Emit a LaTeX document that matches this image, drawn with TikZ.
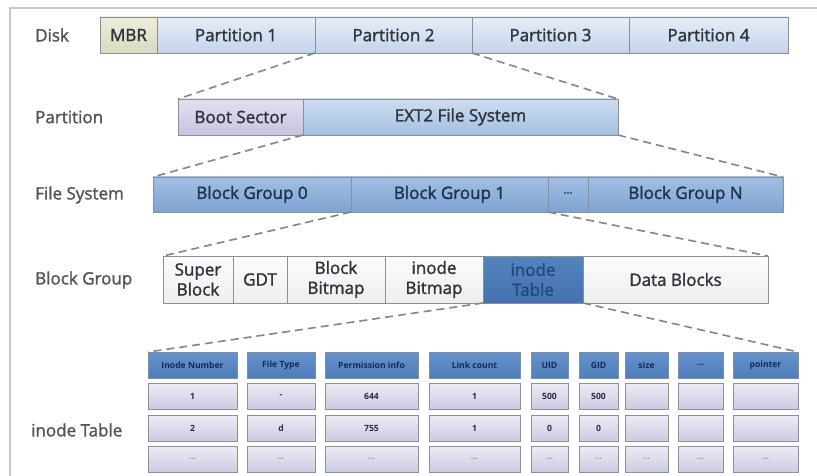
\documentclass[tikz,border=0pt]{standalone}
\usepackage{fontspec}
\setmainfont{Open Sans}
\newfontfamily\medfont{Open Sans}[FakeBold=1.6]
\definecolor{frame}{HTML}{C8C8C8}
\definecolor{bord}{HTML}{8A8F99}
\definecolor{dash}{HTML}{858585}
\definecolor{lbl}{HTML}{555555}
\definecolor{txt}{HTML}{30343E}
\definecolor{navy}{HTML}{1F3050}
\definecolor{mbrT}{HTML}{EDEDDC}\definecolor{mbrB}{HTML}{D9D9BF}
\definecolor{partT}{HTML}{E6EEF8}\definecolor{partB}{HTML}{C2D4EA}
\definecolor{bootT}{HTML}{E2DFF0}\definecolor{bootB}{HTML}{C8C3E0}
\definecolor{extT}{HTML}{CDDDF0}\definecolor{extB}{HTML}{A3BFE0}
\definecolor{fsT}{HTML}{A2BFE2}\definecolor{fsB}{HTML}{7DA3D2}
\definecolor{whtT}{HTML}{FCFCFC}\definecolor{whtB}{HTML}{EEEEEE}
\definecolor{itT}{HTML}{5384C0}\definecolor{itB}{HTML}{4571AE}\definecolor{itTxt}{HTML}{23487E}
\definecolor{hdrD}{HTML}{7F8EA6}\definecolor{hdrT}{HTML}{6592CC}\definecolor{hdrB}{HTML}{4E7DBA}\definecolor{hdrTxt}{HTML}{16295A}
\definecolor{cellD}{HTML}{8E8E9E}\definecolor{cellT}{HTML}{ECECF6}\definecolor{cellB}{HTML}{C9CCE2}\definecolor{cellTxt}{HTML}{2A2A40}
\definecolor{dotTxt}{HTML}{8A8FB0}
\tikzset{
  x=1pt, y=-1pt,
  base/.style={draw=bord, line width=0.9pt, inner sep=0pt, outer sep=0pt, align=center, text=txt,
    font=\medfont\fontsize{17}{20}\selectfont},
  mbr/.style={base, top color=mbrT, bottom color=mbrB},
  part/.style={base, top color=partT, bottom color=partB},
  boot/.style={base, top color=bootT, bottom color=bootB},
  ext/.style={base, top color=extT, bottom color=extB},
  fs/.style={base, top color=fsT, bottom color=fsB, text=navy},
  wht/.style={base, top color=whtT, bottom color=whtB},
  itab/.style={base, top color=itT, bottom color=itB, text=itTxt},
  hdr/.style={base, draw=hdrD, top color=hdrT, bottom color=hdrB,
    text=hdrTxt, font=\bfseries\fontsize{8.6}{9}\selectfont},
  cell/.style={base, draw=cellD, top color=cellT, bottom color=cellB,
    text=cellTxt, font=\bfseries\fontsize{8.6}{9}\selectfont},
  rowlbl/.style={anchor=west, inner sep=0pt, text=lbl, font=\medfont\fontsize{17}{20}\selectfont},
  conn/.style={draw=dash, line width=1.6pt, dash pattern=on 8pt off 5pt}
}
\newcommand\bx[7]{\node[#6, minimum width={(#3)-(#2)}, minimum height={(#5)-(#4)}] (#1) at ({((#2)+(#3))/2},{((#4)+(#5))/2}) {#7};}
\begin{document}
\begin{tikzpicture}
\useasboundingbox (0,0) rectangle (817,476);
\fill[white] (0,0) rectangle (817,476);
% frame
\draw[frame, line width=1.5pt] (10,476) -- (10,8) -- (817,8);

% row labels
\node[rowlbl] (lDisk) at (35,35) {Disk};
\node[rowlbl] (lPart) at (35,117) {Partition};
\node[rowlbl] (lFS) at (35,195) {File System};
\node[rowlbl] (lBG) at (35,280) {Block Group};
\node[rowlbl] (lIT) at (31,430) {inode Table};

% Disk row
\bx{mbr}{100}{157}{17}{53}{mbr}{MBR}
\bx{p1}{157}{315}{17}{53}{part}{Partition 1}
\bx{p2}{315}{472}{17}{53}{part}{Partition 2}
\bx{p3}{472}{629}{17}{53}{part}{Partition 3}
\bx{p4}{629}{788}{17}{53}{part}{Partition 4}

% Partition row
\bx{boot}{178}{303}{99}{135}{boot}{Boot Sector}
\bx{ext}{303}{618}{99}{135}{ext}{EXT2 File System}

% File system row
\bx{bg0}{153}{351}{177}{212}{fs}{Block Group 0}
\bx{bg1}{351}{548}{177}{212}{fs}{Block Group 1}
\bx{bgd}{548}{588}{177}{212}{fs}{\fontsize{11}{12}\selectfont ···}
\bx{bgn}{588}{783}{177}{212}{fs}{Block Group N}

% Block group row
\bx{sb}{163}{233}{256}{303}{wht}{Super\\Block}
\bx{gdt}{233}{287}{256}{303}{wht}{GDT}
\bx{bbm}{287}{385}{256}{303}{wht}{Block\\Bitmap}
\bx{ibm}{385}{483}{256}{303}{wht}{inode\\Bitmap}
\bx{it}{483}{583}{256}{303}{itab}{inode\\Table}
\bx{db}{583}{768}{256}{303}{wht}{Data Blocks}

% inode table
\foreach \i/\a/\b/\h/\u/\v in {
  1/148/237/{Inode Number}/1/2,
  2/247/315/{File Type}/-/d,
  3/325/418/{Permission info}/644/755,
  4/429/520/{Link count}/1/1,
  5/531/568/{UID}/500/0,
  6/579/618/{GID}/500/0,
  7/625/668/{size}/{}/{},
  8/678/723/{...}/{}/{},
  9/733/798/{pointer}/{}/{}}{
  \bx{h\i}{\a}{\b}{352}{378}{hdr}{\h}
  \bx{ra\i}{\a}{\b}{383}{409}{cell}{\u}
  \bx{rb\i}{\a}{\b}{415}{441}{cell}{\v}
  \bx{rc\i}{\a}{\b}{446}{472}{cell}{\textcolor{dotTxt}{...}}
}

% connectors
\draw[conn] (p2.south west) -- (boot.north west);
\draw[conn] (p2.south east) -- (ext.north east);
\draw[conn] (boot.south east) -- (bg0.north west);
\draw[conn] (ext.south east) -- (bgn.north east);
\draw[conn] (bg1.south west) -- (sb.north west);
\draw[conn] (bg1.south east) -- (db.north east);
\draw[conn] (it.south west) -- (h1.north west);
\draw[conn] (it.south east) -- (h9.north east);
\end{tikzpicture}
\end{document}
